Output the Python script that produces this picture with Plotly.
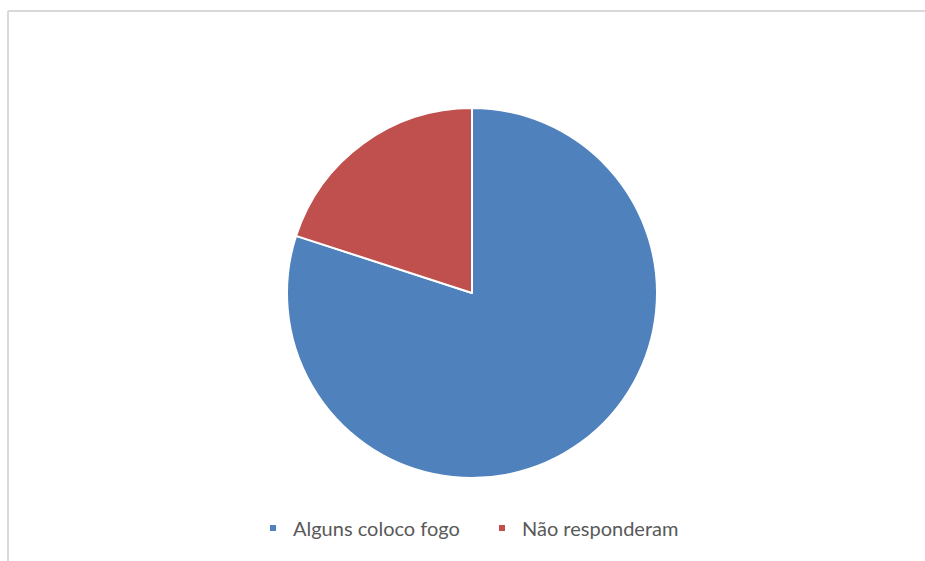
import plotly.graph_objects as go

# Survey answers and their share of respondents (%)
categories = ["Alguns coloco fogo", "Não responderam"]
shares = [80, 20]
colors = ["#4F81BD", "#C0504D"]

W, H = 925, 561

fig = go.Figure(
    go.Pie(
        labels=categories,
        values=shares,
        sort=False,
        direction="clockwise",
        rotation=0,
        marker=dict(colors=colors, line=dict(color="white", width=2)),
        textinfo="none",
        hoverinfo="label+percent",
        showlegend=False,
        domain=dict(x=[287 / W, 657 / W], y=[1 - 478 / H, 1 - 108 / H]),
    )
)

# Legend keys: small square swatches, one per category
for name, col in zip(categories, colors):
    fig.add_trace(
        go.Scatter(
            x=[None], y=[None], mode="markers", name=name,
            marker=dict(symbol="square", size=6, color=col),
            hoverinfo="skip",
        )
    )

# Chart-area frame (top and left edges visible)
frame = dict(color="#D9D9D9", width=2)
fig.add_shape(type="line", xref="paper", yref="paper",
              x0=8 / W, x1=1.0, y0=1 - 11 / H, y1=1 - 11 / H, line=frame)
fig.add_shape(type="line", xref="paper", yref="paper",
              x0=8 / W, x1=8 / W, y0=0, y1=1 - 11 / H, line=frame)

fig.update_layout(
    width=W,
    height=H,
    margin=dict(l=0, r=0, t=0, b=0),
    paper_bgcolor="white",
    plot_bgcolor="white",
    xaxis=dict(visible=False),
    yaxis=dict(visible=False),
    showlegend=True,
    legend=dict(
        orientation="h",
        x=253 / W,
        xanchor="left",
        y=1 - 528 / H,
        yanchor="middle",
        font=dict(family="Lato", size=20, color="#595959"),
        itemwidth=30,
        entrywidth=184,
        traceorder="normal",
    ),
)

fig.write_html("out.html")
